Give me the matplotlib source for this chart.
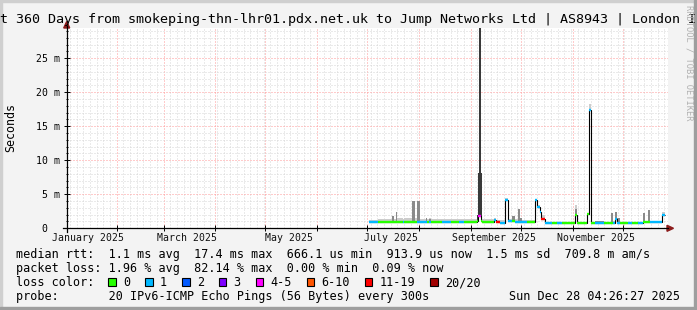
import numpy as np
import pandas as pd
import matplotlib
matplotlib.use("Agg")
import matplotlib.pyplot as plt
import matplotlib.dates as mdates
from matplotlib.lines import Line2D
from matplotlib.patches import Polygon, Rectangle
from matplotlib.transforms import offset_copy

W, H = 697, 310
plt.rcParams["font.family"] = ["DejaVu Sans Mono"]

T_START = "2025-01-02 04:26:27"
T_END = "2025-12-28 04:26:27"

# median rtt, split into steps (ms); loss class indexes loss_labels
seg_start = [
    "2025-07-02 00:00", "2025-07-07 12:00", "2025-07-16 00:00", "2025-07-17 00:00",
    "2025-07-18 00:00", "2025-07-19 00:00", "2025-07-22 12:00", "2025-07-23 00:00",
    "2025-07-28 00:00", "2025-07-29 12:00", "2025-07-31 00:00", "2025-08-01 12:00",
    "2025-08-05 00:00", "2025-08-06 00:00", "2025-08-07 00:00", "2025-08-08 00:00",
    "2025-08-15 00:00", "2025-08-20 12:00", "2025-08-25 00:00", "2025-08-28 00:00",
    "2025-09-04 12:00", "2025-09-05 06:00", "2025-09-06 06:00", "2025-09-07 00:00",
    "2025-09-07 12:00", "2025-09-15 00:00", "2025-09-16 06:00", "2025-09-18 12:00",
    "2025-09-21 12:00", "2025-09-23 06:00", "2025-09-25 18:00", "2025-09-27 12:00",
    "2025-09-29 12:00", "2025-09-30 18:00", "2025-10-02 00:00", "2025-10-04 18:00",
    "2025-10-09 12:00", "2025-10-10 18:00", "2025-10-12 12:00", "2025-10-13 00:00",
    "2025-10-15 12:00", "2025-10-19 18:00", "2025-10-22 18:00", "2025-10-25 18:00",
    "2025-11-02 12:00", "2025-11-03 18:00", "2025-11-09 18:00", "2025-11-10 18:00",
    "2025-11-12 00:00", "2025-11-14 12:00", "2025-11-20 00:00", "2025-11-24 00:00",
    "2025-11-25 12:00", "2025-11-26 12:00", "2025-11-27 18:00", "2025-11-29 12:00",
    "2025-12-04 06:00", "2025-12-06 12:00", "2025-12-10 00:00", "2025-12-13 00:00",
    "2025-12-14 12:00", "2025-12-16 12:00", "2025-12-17 12:00", "2025-12-24 12:00",
]
seg_end = "2025-12-26 06:00"

median_ms = [
    0.97, 0.97, 0.97, 0.97, 0.97, 0.97, 0.97, 0.97,
    0.97, 0.97, 0.97, 0.90, 0.95, 0.95, 0.95, 0.97,
    0.95, 0.97, 0.95, 0.90, 1.00, 1.85, 1.85, 1.00,
    0.90, 1.25, 0.90, 0.85, 4.10, 1.00, 1.00, 0.90,
    0.90, 0.90, 0.90, 0.90, 4.15, 3.20, 2.45, 1.30,
    0.73, 0.73, 0.73, 0.73, 1.95, 0.73, 2.05, 17.4,
    0.73, 0.73, 0.73, 0.73, 0.73, 1.35, 0.80, 0.73,
    0.73, 0.73, 0.73, 0.90, 0.90, 0.90, 0.90, 1.95,
]
loss_class = [
    1, 0, 0, 0, 0, 0, 1, 0,
    0, 0, 1, 1, 1, 0, 1, 0,
    1, 0, 1, 0, 0, 4, 4, 0,
    0, 1, 6, 1, 1, 1, 0, 1,
    1, 1, 1, 0, 1, 1, 1, 6,
    1, 0, 1, 0, 0, 0, 0, 1,
    0, 1, 0, 0, 1, 1, 1, 0,
    1, 0, 1, 0, 0, 0, 1, 1,
]
# smoke: highest ping, upper pings, dense pings (0 = none above median)
ping_max = [
    1.25, 1.35, 1.80, 1.40, 2.35, 1.45, 1.40, 1.45,
    4.00, 1.50, 4.00, 1.40, 1.55, 1.40, 1.45, 1.40,
    1.35, 1.40, 1.35, 1.30, 2.00, 8.10, 29.4, 8.10,
    1.30, 1.50, 1.20, 1.20, 4.40, 1.40, 1.80, 1.30,
    2.80, 1.50, 1.20, 1.20, 4.30, 3.40, 2.60, 1.90,
    0.85, 0.85, 0.85, 0.90, 3.40, 0.90, 2.20, 18.3,
    0.90, 1.00, 0.95, 2.20, 1.00, 2.45, 1.50, 0.90,
    0.90, 0.90, 0.90, 2.30, 1.00, 2.70, 1.00, 2.40,
]
ping_upper = [
    0, 0, 1.80, 0, 2.35, 0, 0, 0,
    4.00, 0, 4.00, 0, 1.50, 0, 1.40, 0,
    0, 0, 0, 0, 2.00, 8.10, 29.4, 8.10,
    0, 0, 0, 0, 0, 0, 1.80, 0,
    2.80, 1.50, 0, 0, 0, 0, 0, 0,
    0, 0, 0, 0, 2.90, 0, 0, 0,
    0, 1.00, 0, 2.20, 0, 2.45, 1.50, 0,
    0, 0, 0, 2.30, 0, 2.70, 0, 2.00,
]
ping_dense = [
    0, 0, 0, 0, 0, 0, 0, 0,
    0, 0, 0, 0, 0, 0, 0, 0,
    0, 0, 0, 0, 2.00, 8.10, 29.4, 8.10,
    0, 0, 0, 0, 0, 0, 0, 0,
    0, 0, 0, 0, 0, 0, 0, 0,
    0, 0, 0, 0, 0, 0, 0, 0,
    0, 0, 0, 0, 0, 0, 0, 0,
    0, 0, 0, 0, 0, 0, 0, 0,
]

loss_labels = ["0", "1", "2", "3", "4-5", "6-10", "11-19", "20/20"]
loss_colors = ["#26ff00", "#00b8ff", "#0059ff", "#7e00ff", "#ff00ff", "#ff5500", "#ff0000", "#a00000"]

month_labels = ["January 2025", "March 2025", "May 2025", "July 2025", "September 2025", "November 2025"]
month_label_at = ["2025-01-15", "2025-03-15", "2025-05-15", "2025-07-15", "2025-09-15", "2025-11-15"]
y_ticks = [0, 5, 10, 15, 20, 25]
y_tick_labels = ["0  ", "5 m", "10 m", "15 m", "20 m", "25 m"]

title = "t 360 Days from smokeping-thn-lhr01.pdx.net.uk to Jump Networks Ltd | AS8943 | London I"
legend_rows = [
    "median rtt:  1.1 ms avg  17.4 ms max  666.1 us min  913.9 us now  1.5 ms sd  709.8 m am/s",
    "packet loss: 1.96 % avg  82.14 % max  0.00 % min  0.09 % now",
    "loss color:",
    "probe:       20 IPv6-ICMP Echo Pings (56 Bytes) every 300s",
]
stamp = "Sun Dec 28 04:26:27 2025"


def fx(x):
    return x / W


def fy(y):
    return 1 - y / H


def to_num(dates):
    return mdates.date2num(pd.to_datetime(dates).to_pydatetime())


def main():
    fig = plt.figure(figsize=(W / 100, H / 100), dpi=100, facecolor="#f3f3f3")
    ax = fig.add_axes([fx(67), fy(228.3), 601 / W, 200.8 / H])
    ax.set_facecolor("white")
    for s in ax.spines.values():
        s.set_visible(False)

    edges = to_num(seg_start + [seg_end])
    med = np.array(median_ms)

    ax.stairs(np.maximum(ping_max, med), edges, baseline=med, fill=True, color="#cccccc", lw=0, zorder=2)
    ax.stairs(np.maximum(ping_upper, med), edges, baseline=med, fill=True, color="#8a8a8a", lw=0, zorder=2)
    ax.stairs(np.maximum(ping_dense, med), edges, baseline=med, fill=True, color="#3a3a3a", lw=0, zorder=2)
    ax.stairs(med, edges, baseline=None, color="black", lw=0.8, zorder=3)
    ax.hlines(med, edges[:-1], edges[1:], colors=[loss_colors[c] for c in loss_class], lw=1.7, zorder=4)

    ax.set_xlim(to_num([T_START, T_END]))
    ax.set_ylim(0, 29.5)

    ax.set_xticks(to_num(pd.date_range("2025-02-01", "2025-12-01", freq="MS")))
    ax.set_xticks(to_num(pd.date_range("2025-01-04", "2025-12-28", freq="4D")), minor=True)
    ax.set_yticks(y_ticks, y_tick_labels)
    ax.set_yticks(np.arange(0, 30), minor=True)
    ax.tick_params(axis="x", which="major", direction="inout", length=4.5, width=0.7, labelbottom=False)
    ax.tick_params(axis="x", which="minor", length=0)
    ax.tick_params(axis="y", which="major", direction="inout", length=4, width=0.7, labelsize=7.1, pad=3.2)
    ax.tick_params(axis="y", which="minor", direction="inout", length=2, width=0.7)
    ax.grid(True, which="minor", color="#d6d6d6", ls=(0, (1, 2)), lw=0.72)
    ax.grid(True, which="major", color="#ff9999", ls=(0, (1, 2)), lw=0.72)
    ax.set_axisbelow(True)

    lab_tr = offset_copy(ax.get_xaxis_transform(), fig=fig, y=-13, units="dots")
    for lbl, d in zip(month_labels, to_num(month_label_at)):
        ax.text(d, 0, lbl, transform=lab_tr, ha="center", va="baseline", fontsize=7.1, color="#111111")

    # axes with arrows
    fig.add_artist(Line2D([fx(62.5), fx(668)], [fy(228.3)] * 2, color="black", lw=0.9))
    fig.add_artist(Line2D([fx(66.7)] * 2, [fy(231.5), fy(26)], color="black", lw=0.9))
    fig.add_artist(Polygon([[fx(667), fy(225.3)], [fx(673.5), fy(228.3)], [fx(667), fy(231.3)]],
                           closed=True, color="#8c1c1c", transform=fig.transFigure))
    fig.add_artist(Polygon([[fx(63.7), fy(28)], [fx(66.7), fy(21.5)], [fx(69.7), fy(28)]],
                           closed=True, color="#8c1c1c", transform=fig.transFigure))

    # 3d frame
    fig.add_artist(Rectangle((0, fy(2)), 1, 2 / H, color="#cfcfcf", transform=fig.transFigure))
    fig.add_artist(Rectangle((0, 0), 2 / W, 1, color="#cfcfcf", transform=fig.transFigure))
    fig.add_artist(Rectangle((0, 0), 1, 3 / H, color="#9e9e9e", transform=fig.transFigure))
    fig.add_artist(Rectangle((fx(694), 0), 3 / W, 1, color="#9e9e9e", transform=fig.transFigure))

    fig.text(fx(348.5), fy(23), title, ha="center", va="baseline", fontsize=9.6, color="black")
    fig.text(fx(11), fy(127.5), "Seconds", rotation=90, ha="center", va="center", fontsize=8.4)
    fig.text(fx(688.5), fy(5), "RRDTOOL / TOBI OETIKER", rotation=270, ha="center", va="top",
             fontsize=6.3, color="#b0b0b0")

    fs = 8.5
    cw = fs * 100 / 72 * 0.602
    for i, row in enumerate(legend_rows):
        fig.text(fx(16), fy(258.3 + 14 * i), row, ha="left", va="baseline", fontsize=fs, color="black")
    fig.text(fx(680), fy(300.3), stamp, ha="right", va="baseline", fontsize=fs, color="black")

    x = 16 + 13 * cw
    for lbl, col in zip(loss_labels, loss_colors):
        fig.add_artist(Rectangle((fx(x), fy(286.3)), 7.5 / W, 8.3 / H, facecolor=col, edgecolor="black",
                                 lw=0.8, transform=fig.transFigure))
        fig.text(fx(x + 14.8), fy(286.3), lbl, ha="left", va="baseline", fontsize=fs, color="black")
        x += 14.8 + len(lbl) * cw + 14.9

    fig.savefig("out.png", dpi=100, facecolor=fig.get_facecolor())


main()
